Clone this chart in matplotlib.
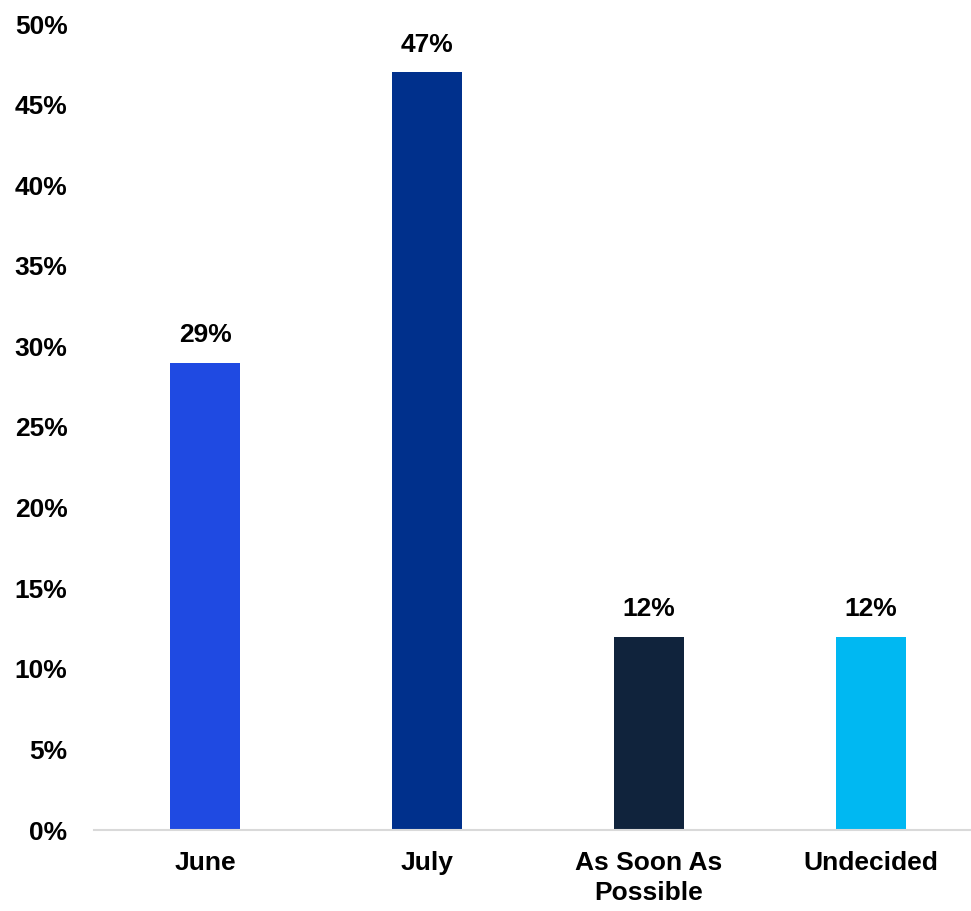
import matplotlib.pyplot as plt
from matplotlib.ticker import FuncFormatter

plt.rcParams['font.family'] = ['Liberation Sans', 'DejaVu Sans']
plt.rcParams['font.weight'] = 'bold'

# 数据
categories = ['June', 'July', 'As Soon As\nPossible', 'Undecided']
values = [29, 47, 12, 12]
colors = ['#1f4ae2', '#00308c', '#10233c', '#00b8f2']

fig = plt.figure(figsize=(9.71, 9.11), dpi=100)
ax = fig.add_axes([94 / 971, 81 / 911, 888 / 971, 806 / 911])

x = range(len(categories))
bars = ax.bar(x, values, width=0.315, color=colors)

# 柱顶数值标签
ax.bar_label(bars, labels=[f'{v}%' for v in values], padding=11,
             fontsize=19, fontweight='bold')

ax.set_xlim(-0.5, 3.5)
ax.set_ylim(0, 50)
ax.set_yticks(range(0, 51, 5))
ax.yaxis.set_major_formatter(FuncFormatter(lambda v, p: f'{v:.0f}%'))
ax.set_xticks(list(x))
ax.set_xticklabels(categories, fontsize=19, fontweight='bold', linespacing=1.3)

for s in ['top', 'right', 'left']:
    ax.spines[s].set_visible(False)
ax.spines['bottom'].set_color('#d9d9d9')
ax.spines['bottom'].set_linewidth(1.5)

ax.tick_params(axis='y', length=0, pad=19, labelsize=19)
ax.tick_params(axis='x', length=0, pad=15)

fig.savefig('out.png', dpi=100)
